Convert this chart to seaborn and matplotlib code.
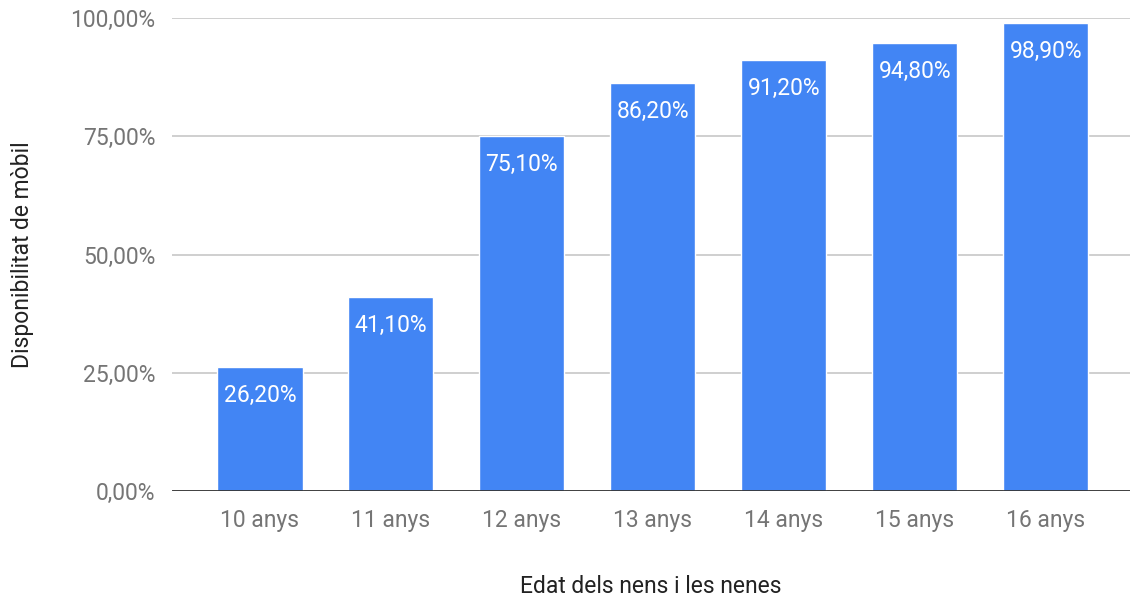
import seaborn as sns
import numpy as np
import pandas as pd
import matplotlib.pyplot as plt

ages = ["10 anys", "11 anys", "12 anys", "13 anys", "14 anys", "15 anys", "16 anys"]
values = [26.2, 41.1, 75.1, 86.2, 91.2, 94.8, 98.9]
yticks = [0, 25, 50, 75, 100]

df = pd.DataFrame({"edat": ages, "valor": values})

sns.set_style("white")
plt.rcParams['font.family'] = ['Roboto', 'DejaVu Sans']

fig = plt.figure(figsize=(11.33, 6.01), dpi=100)
ax = fig.add_axes([0.152, 0.183, 0.845, 0.787])

sns.barplot(data=df, x="edat", y="valor", color="#4285f4", width=0.65,
            saturation=1, ax=ax, zorder=3)

# white value labels at the top inside each bar
for i, v in enumerate(values):
    ax.text(i, v - 3.6, f"{v:.2f}%".replace(".", ","), ha="center", va="top",
            color="white", fontsize=16.5, zorder=4)

ax.set_ylim(0, 100)
ax.set_xlim(-0.67, 6.64)
ax.set_yticks(yticks)
ax.set_yticklabels([f"{t:.2f}%".replace(".", ",") for t in yticks])
ax.yaxis.grid(True, color="#cccccc", linewidth=1.3, zorder=0)
ax.axhline(0, color="#333333", linewidth=2, zorder=5)
for s in ax.spines.values():
    s.set_visible(False)
ax.tick_params(axis="both", length=0, labelsize=16.5, labelcolor="#757575")
ax.tick_params(axis="y", pad=12)
ax.tick_params(axis="x", pad=13)

ax.set_xlabel("Edat dels nens i les nenes", fontsize=16.5, color="#222222", labelpad=31)
ax.set_ylabel("Disponibilitat de mòbil", fontsize=16.5, color="#222222", labelpad=26)

plt.savefig("out.png", dpi=100)
